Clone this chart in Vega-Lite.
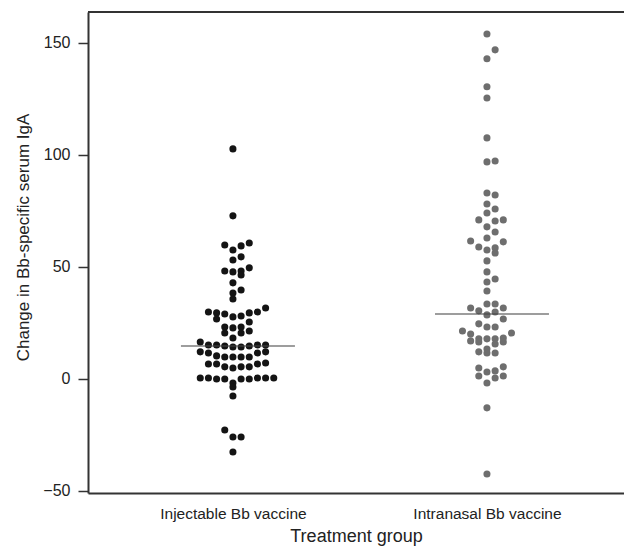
{
  "$schema": "https://vega.github.io/schema/vega-lite/v6.json",
  "width": 536,
  "height": 481,
  "autosize": {"type": "none"},
  "padding": {"left": 88, "top": 12, "right": 0, "bottom": 60},
  "background": "white",
  "config": {"font": "Liberation Sans", "view": {"stroke": null}},
  "datasets": {
    "obs": [
      {"group": "Injectable Bb vaccine", "value": 102.7},
      {"group": "Injectable Bb vaccine", "value": 72.8},
      {"group": "Injectable Bb vaccine", "value": 60.7},
      {"group": "Injectable Bb vaccine", "value": 59.8},
      {"group": "Injectable Bb vaccine", "value": 59.4},
      {"group": "Injectable Bb vaccine", "value": 57.6},
      {"group": "Injectable Bb vaccine", "value": 54.5},
      {"group": "Injectable Bb vaccine", "value": 53.1},
      {"group": "Injectable Bb vaccine", "value": 49.6},
      {"group": "Injectable Bb vaccine", "value": 48.2},
      {"group": "Injectable Bb vaccine", "value": 48.2},
      {"group": "Injectable Bb vaccine", "value": 47.8},
      {"group": "Injectable Bb vaccine", "value": 46.4},
      {"group": "Injectable Bb vaccine", "value": 42.9},
      {"group": "Injectable Bb vaccine", "value": 39.7},
      {"group": "Injectable Bb vaccine", "value": 38.4},
      {"group": "Injectable Bb vaccine", "value": 35.7},
      {"group": "Injectable Bb vaccine", "value": 31.7},
      {"group": "Injectable Bb vaccine", "value": 29.9},
      {"group": "Injectable Bb vaccine", "value": 29.9},
      {"group": "Injectable Bb vaccine", "value": 29.5},
      {"group": "Injectable Bb vaccine", "value": 29.5},
      {"group": "Injectable Bb vaccine", "value": 29.0},
      {"group": "Injectable Bb vaccine", "value": 28.1},
      {"group": "Injectable Bb vaccine", "value": 27.7},
      {"group": "Injectable Bb vaccine", "value": 26.8},
      {"group": "Injectable Bb vaccine", "value": 25.4},
      {"group": "Injectable Bb vaccine", "value": 23.2},
      {"group": "Injectable Bb vaccine", "value": 23.2},
      {"group": "Injectable Bb vaccine", "value": 22.8},
      {"group": "Injectable Bb vaccine", "value": 21.4},
      {"group": "Injectable Bb vaccine", "value": 20.5},
      {"group": "Injectable Bb vaccine", "value": 20.5},
      {"group": "Injectable Bb vaccine", "value": 18.3},
      {"group": "Injectable Bb vaccine", "value": 16.5},
      {"group": "Injectable Bb vaccine", "value": 15.2},
      {"group": "Injectable Bb vaccine", "value": 15.2},
      {"group": "Injectable Bb vaccine", "value": 15.2},
      {"group": "Injectable Bb vaccine", "value": 15.2},
      {"group": "Injectable Bb vaccine", "value": 14.7},
      {"group": "Injectable Bb vaccine", "value": 14.7},
      {"group": "Injectable Bb vaccine", "value": 14.3},
      {"group": "Injectable Bb vaccine", "value": 14.3},
      {"group": "Injectable Bb vaccine", "value": 12.1},
      {"group": "Injectable Bb vaccine", "value": 12.1},
      {"group": "Injectable Bb vaccine", "value": 11.6},
      {"group": "Injectable Bb vaccine", "value": 11.6},
      {"group": "Injectable Bb vaccine", "value": 10.3},
      {"group": "Injectable Bb vaccine", "value": 9.8},
      {"group": "Injectable Bb vaccine", "value": 9.8},
      {"group": "Injectable Bb vaccine", "value": 9.8},
      {"group": "Injectable Bb vaccine", "value": 9.8},
      {"group": "Injectable Bb vaccine", "value": 7.1},
      {"group": "Injectable Bb vaccine", "value": 6.7},
      {"group": "Injectable Bb vaccine", "value": 6.7},
      {"group": "Injectable Bb vaccine", "value": 6.7},
      {"group": "Injectable Bb vaccine", "value": 5.4},
      {"group": "Injectable Bb vaccine", "value": 5.4},
      {"group": "Injectable Bb vaccine", "value": 5.4},
      {"group": "Injectable Bb vaccine", "value": 4.9},
      {"group": "Injectable Bb vaccine", "value": 0.4},
      {"group": "Injectable Bb vaccine", "value": 0.4},
      {"group": "Injectable Bb vaccine", "value": 0.4},
      {"group": "Injectable Bb vaccine", "value": 0.4},
      {"group": "Injectable Bb vaccine", "value": 0.4},
      {"group": "Injectable Bb vaccine", "value": 0.0},
      {"group": "Injectable Bb vaccine", "value": 0.0},
      {"group": "Injectable Bb vaccine", "value": 0.0},
      {"group": "Injectable Bb vaccine", "value": 0.0},
      {"group": "Injectable Bb vaccine", "value": -1.8},
      {"group": "Injectable Bb vaccine", "value": -3.6},
      {"group": "Injectable Bb vaccine", "value": -7.6},
      {"group": "Injectable Bb vaccine", "value": -22.8},
      {"group": "Injectable Bb vaccine", "value": -25.9},
      {"group": "Injectable Bb vaccine", "value": -25.9},
      {"group": "Injectable Bb vaccine", "value": -32.6},
      {"group": "Intranasal Bb vaccine", "value": 154.0},
      {"group": "Intranasal Bb vaccine", "value": 146.9},
      {"group": "Intranasal Bb vaccine", "value": 142.9},
      {"group": "Intranasal Bb vaccine", "value": 130.4},
      {"group": "Intranasal Bb vaccine", "value": 125.4},
      {"group": "Intranasal Bb vaccine", "value": 107.6},
      {"group": "Intranasal Bb vaccine", "value": 97.3},
      {"group": "Intranasal Bb vaccine", "value": 96.9},
      {"group": "Intranasal Bb vaccine", "value": 83.0},
      {"group": "Intranasal Bb vaccine", "value": 82.1},
      {"group": "Intranasal Bb vaccine", "value": 78.1},
      {"group": "Intranasal Bb vaccine", "value": 75.9},
      {"group": "Intranasal Bb vaccine", "value": 74.1},
      {"group": "Intranasal Bb vaccine", "value": 71.0},
      {"group": "Intranasal Bb vaccine", "value": 71.0},
      {"group": "Intranasal Bb vaccine", "value": 70.5},
      {"group": "Intranasal Bb vaccine", "value": 67.9},
      {"group": "Intranasal Bb vaccine", "value": 65.6},
      {"group": "Intranasal Bb vaccine", "value": 62.9},
      {"group": "Intranasal Bb vaccine", "value": 61.6},
      {"group": "Intranasal Bb vaccine", "value": 61.2},
      {"group": "Intranasal Bb vaccine", "value": 58.9},
      {"group": "Intranasal Bb vaccine", "value": 58.5},
      {"group": "Intranasal Bb vaccine", "value": 57.6},
      {"group": "Intranasal Bb vaccine", "value": 56.2},
      {"group": "Intranasal Bb vaccine", "value": 52.7},
      {"group": "Intranasal Bb vaccine", "value": 47.8},
      {"group": "Intranasal Bb vaccine", "value": 44.6},
      {"group": "Intranasal Bb vaccine", "value": 43.3},
      {"group": "Intranasal Bb vaccine", "value": 39.3},
      {"group": "Intranasal Bb vaccine", "value": 33.5},
      {"group": "Intranasal Bb vaccine", "value": 33.5},
      {"group": "Intranasal Bb vaccine", "value": 31.7},
      {"group": "Intranasal Bb vaccine", "value": 31.7},
      {"group": "Intranasal Bb vaccine", "value": 30.4},
      {"group": "Intranasal Bb vaccine", "value": 29.9},
      {"group": "Intranasal Bb vaccine", "value": 28.6},
      {"group": "Intranasal Bb vaccine", "value": 26.8},
      {"group": "Intranasal Bb vaccine", "value": 24.6},
      {"group": "Intranasal Bb vaccine", "value": 23.2},
      {"group": "Intranasal Bb vaccine", "value": 23.2},
      {"group": "Intranasal Bb vaccine", "value": 21.4},
      {"group": "Intranasal Bb vaccine", "value": 20.5},
      {"group": "Intranasal Bb vaccine", "value": 20.1},
      {"group": "Intranasal Bb vaccine", "value": 18.3},
      {"group": "Intranasal Bb vaccine", "value": 17.9},
      {"group": "Intranasal Bb vaccine", "value": 17.9},
      {"group": "Intranasal Bb vaccine", "value": 17.9},
      {"group": "Intranasal Bb vaccine", "value": 17.0},
      {"group": "Intranasal Bb vaccine", "value": 16.5},
      {"group": "Intranasal Bb vaccine", "value": 16.5},
      {"group": "Intranasal Bb vaccine", "value": 15.6},
      {"group": "Intranasal Bb vaccine", "value": 13.4},
      {"group": "Intranasal Bb vaccine", "value": 12.1},
      {"group": "Intranasal Bb vaccine", "value": 11.6},
      {"group": "Intranasal Bb vaccine", "value": 11.6},
      {"group": "Intranasal Bb vaccine", "value": 5.4},
      {"group": "Intranasal Bb vaccine", "value": 4.9},
      {"group": "Intranasal Bb vaccine", "value": 3.6},
      {"group": "Intranasal Bb vaccine", "value": 3.1},
      {"group": "Intranasal Bb vaccine", "value": 1.3},
      {"group": "Intranasal Bb vaccine", "value": 1.3},
      {"group": "Intranasal Bb vaccine", "value": 0.4},
      {"group": "Intranasal Bb vaccine", "value": -1.8},
      {"group": "Intranasal Bb vaccine", "value": -12.9},
      {"group": "Intranasal Bb vaccine", "value": -42.4}
    ],
    "means": [
      {"group": "Injectable Bb vaccine", "mean": 14.7},
      {"group": "Intranasal Bb vaccine", "mean": 29.0}
    ],
    "frame": [{"edge": "top", "value": 163.8}]
  },
  "layer": [
    {
      "data": {"name": "obs"},
      "transform": [
        {"bin": {"step": 5, "anchor": -2.5}, "field": "value", "as": "vb"},
        {"window": [{"op": "row_number", "as": "rank"}], "groupby": ["group", "vb"], "sort": [{"field": "value", "order": "ascending"}]},
        {"calculate": "datum.rank % 2 == 0 ? datum.rank / 2 : -(datum.rank - 1) / 2", "as": "slot"}
      ],
      "mark": {"type": "circle", "size": 50, "opacity": 1},
      "encoding": {
        "x": {
          "field": "group", "type": "nominal",
          "scale": {"type": "point", "padding": 0.555, "align": 0.514, "domain": ["Injectable Bb vaccine", "Intranasal Bb vaccine"]},
          "axis": {"domain": true, "domainColor": "#333", "domainWidth": 2, "ticks": false, "labelAngle": 0, "labelFontSize": 15.5, "labelColor": "#222", "labelPadding": 13, "title": "Treatment group", "titleFontSize": 18, "titleFontWeight": "normal", "titleColor": "#222", "titlePadding": 6}
        },
        "xOffset": {"field": "slot", "type": "quantitative", "scale": {"domain": [-6, 6], "range": [-49, 49]}},
        "y": {
          "field": "value", "type": "quantitative",
          "scale": {"domain": [-50.9, 163.8], "nice": false, "zero": false},
          "axis": {"values": [-50, 0, 50, 100, 150], "domain": true, "domainColor": "#333", "domainWidth": 2, "ticks": true, "tickSize": 10, "tickColor": "#333", "tickWidth": 1.5, "grid": false, "labelFontSize": 16, "labelColor": "#222", "labelPadding": 8, "title": "Change in Bb-specific serum IgA", "titleFontSize": 17, "titleFontWeight": "normal", "titleColor": "#222", "titlePadding": 10, "titleY": 225}
        },
        "color": {"field": "group", "type": "nominal", "scale": {"domain": ["Injectable Bb vaccine", "Intranasal Bb vaccine"], "range": ["#141414", "#6e6e6e"]}, "legend": null}
      }
    },
    {
      "data": {"name": "means"},
      "mark": {"type": "tick", "orient": "horizontal", "size": 114, "thickness": 1.5, "color": "#444", "xOffset": 5},
      "encoding": {
        "x": {"field": "group", "type": "nominal"},
        "y": {"field": "mean", "type": "quantitative"}
      }
    },
    {
      "data": {"name": "frame"},
      "mark": {"type": "rule", "color": "#333", "strokeWidth": 2},
      "encoding": {"y": {"field": "value", "type": "quantitative"}}
    }
  ]
}
